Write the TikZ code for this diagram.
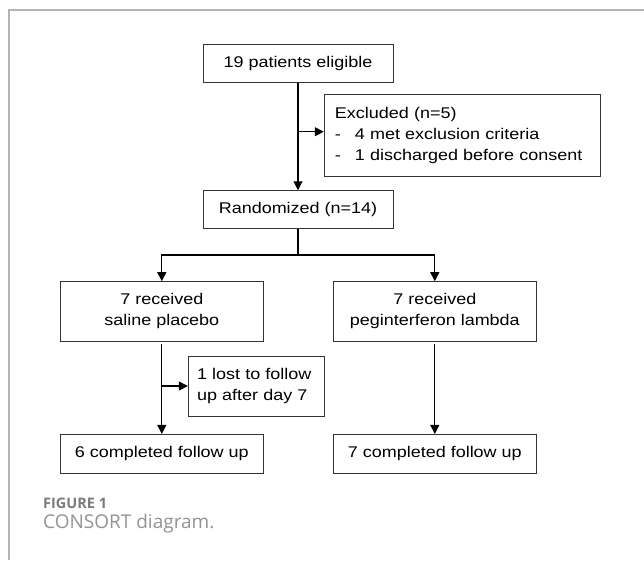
\documentclass[tikz,border=0pt]{standalone}
\usepackage{fontspec}
\usetikzlibrary{arrows.meta}
\newfontfamily\boxfont[FakeStretch=1.16]{Liberation Sans}
\newfontfamily\capfont{Open Sans}
\definecolor{framegray}{HTML}{B4B4B4}
\definecolor{capgray}{HTML}{7B7B7B}
\definecolor{capgraylight}{HTML}{939393}

\begin{document}
\begin{tikzpicture}[x=1pt,y=-1pt,
    flowbox/.style={draw=black!80, line width=0.9pt, inner sep=0pt, align=center,
      font=\boxfont\fontsize{15.5}{21.3}\selectfont},
    flowline/.style={line width=1.1pt},
    flowarrow/.style={line width=1.1pt, -{Triangle[length=9pt,width=9pt]}}]
    \useasboundingbox (0,0) rectangle (644,560);
    \draw[framegray, line width=2pt] (9,560) -- (9,9.7) -- (644,9.7);

    \node[flowbox, minimum width=190, minimum height=38.7] (elig) at (298,63.3) {19 patients eligible};
    \node[flowbox, minimum width=276, minimum height=82.5, align=left, text width=254.6, inner xsep=10.7] (excl) at (462.2,135.3)
        {Excluded (n=5)\\\makebox[20pt][l]{-}4 met exclusion criteria\\\makebox[20pt][l]{-}1 discharged before consent};
    \node[flowbox, minimum width=190, minimum height=38] (rand) at (298,209.7) {Randomized (n=14)};
    \node[flowbox, minimum width=202.3, minimum height=59.3] (placebo) at (161.8,311.3) {7 received\\saline placebo};
    \node[flowbox, minimum width=202.5, minimum height=59.3] (lambda) at (434.8,311.3) {7 received\\peginterferon lambda};
    \node[flowbox, minimum width=136, minimum height=60, align=left, text width=118.6, inner xsep=8.7] (lost) at (256.3,386) {1 lost to follow\\up after day 7};
    \node[flowbox, minimum width=202.3, minimum height=38.7] (done1) at (161.8,453.7) {6 completed follow up};
    \node[flowbox, minimum width=202.5, minimum height=38.7] (done2) at (434.8,453.7) {7 completed follow up};
    \coordinate (split) at (298,255);
    \coordinate (exclin) at ([yshift=3.6pt]excl.west);

    \draw[flowarrow] (elig.south) -- (rand.north);
    \draw[flowarrow] (elig.south |- exclin) -- (exclin);
    \draw[flowarrow] (rand.south) -- (split) -| (placebo.north);
    \draw[flowarrow] (split) -| (lambda.north);
    \draw[flowarrow, shorten <=2.5pt] (placebo.south) -- (done1.north);
    \draw[flowarrow] (placebo.south |- lost.west) -- (lost.west);
    \draw[flowarrow, shorten <=2.5pt] (lambda.south) -- (done2.north);

    % caption
    \node[anchor=base west, inner sep=0pt, text=capgray, font=\capfont\bfseries\fontsize{14.5}{17}\selectfont] (fignum) at (43,508) {FIGURE 1};
    \node[anchor=base west, inner sep=0pt, text=capgraylight, font=\capfont\fontsize{19}{23}\selectfont] (figcap) at (43,528) {CONSORT diagram.};
\end{tikzpicture}
\end{document}
